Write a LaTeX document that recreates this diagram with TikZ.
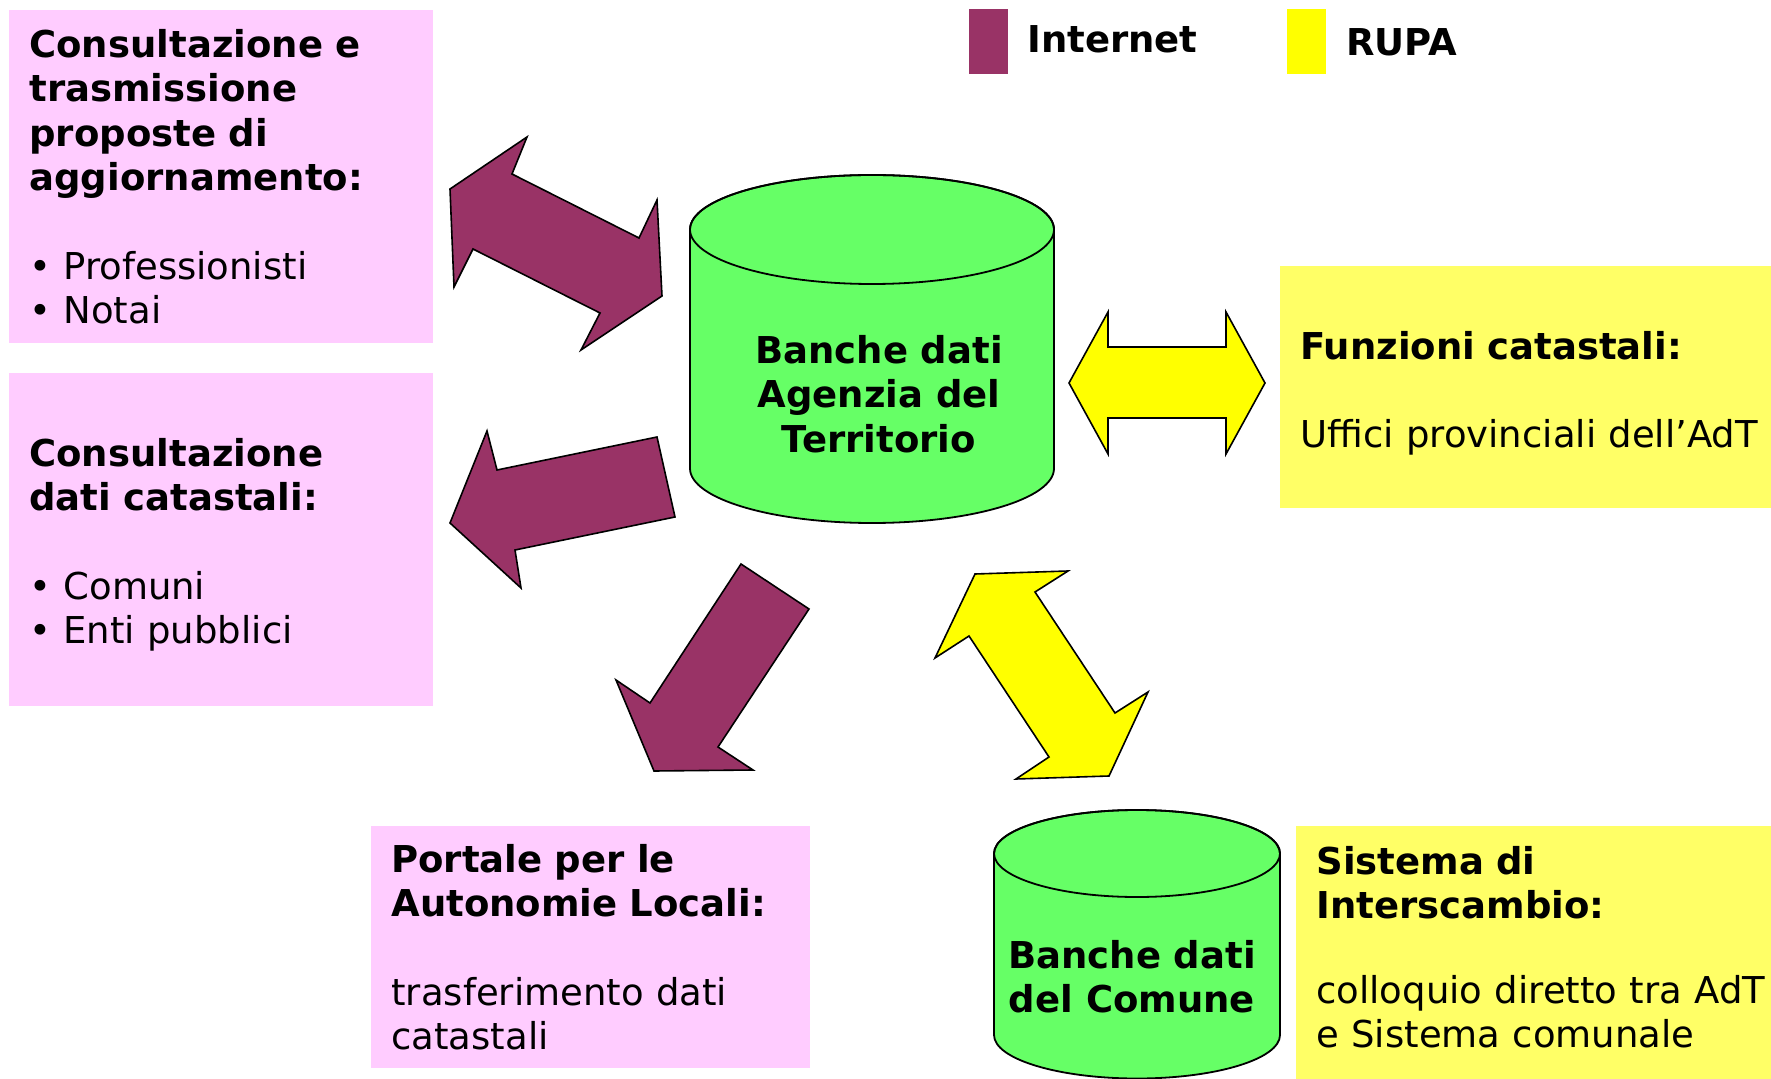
\documentclass[tikz,border=0pt]{standalone}
\usepackage{fontspec}
\setmainfont{DejaVu Sans}
\usepackage{xcolor}
\usetikzlibrary{positioning}

\definecolor{internet}{HTML}{993366}
\definecolor{rupa}{HTML}{FFFF00}
\definecolor{banca}{HTML}{66FF66}
\definecolor{rosa}{HTML}{FFCCFF}
\definecolor{giallo}{HTML}{FFFF66}

\tikzset{
  testo/.style={font=\fontsize{18.5}{22.2}\selectfont},
  grassetto/.style={font=\fontsize{18.5}{22.2}\selectfont\bfseries},
  riquadro/.style={testo, anchor=north west, inner xsep=10pt, inner ysep=0pt, align=left},
  freccia/.style={draw=black, line width=0.8pt, line join=miter},
  legenda/.style={anchor=north west, inner sep=0pt, minimum width=19.5pt, minimum height=32.5pt},
}

\begin{document}
\begin{tikzpicture}[x=0.5pt,y=-0.5pt]
\useasboundingbox (0,0) rectangle (1771,1079);

% riquadri
\node[riquadro, fill=rosa, text width=192pt, minimum height=166.5pt] (aggiornamento) at (9,10)
  {\bfseries Consultazione e\\ trasmissione\\ proposte di\\ aggiornamento:\\[22.2pt]
   \mdseries • Professionisti\\ • Notai};
\node[riquadro, fill=rosa, text width=192pt, minimum height=166.5pt] (consultazione) at (9,373)
  {\bfseries \rule{0pt}{19pt}Consultazione\\ dati catastali:\\[22.2pt]
   \mdseries • Comuni\\ • Enti pubblici};
\node[riquadro, fill=rosa, text width=199.5pt, minimum height=121pt] (portale) at (371,826)
  {\bfseries Portale per le\\ Autonomie Locali:\\[22.2pt]
   \mdseries trasferimento dati\\ catastali};
\node[riquadro, fill=giallo, text width=240pt, minimum height=121pt] (funzioni) at (1280,266)
  {\bfseries \rule{0pt}{20pt}Funzioni catastali:\\[22.2pt]
   \mdseries Uffici provinciali dell’AdT};
\node[riquadro, fill=giallo, text width=232pt, minimum height=126.5pt] (interscambio) at (1296,826)
  {\bfseries Sistema di\\ Interscambio:\\[20pt]
   \mdseries colloquio diretto tra AdT\\ e Sistema comunale\rule[-6pt]{0pt}{6pt}};

% legenda
\node[legenda, fill=internet] (leginternet) at (969,9) {};
\node[grassetto, anchor=base west, inner sep=0pt] (txtinternet) at (1027,53) {Internet};
\node[legenda, fill=rupa] (legrupa) at (1287,9) {};
\node[grassetto, anchor=base west, inner sep=0pt] (txtrupa) at (1346,56) {RUPA};

% banche dati
\foreach \cx/\rx/\ty/\by/\ry in {872/182/229.5/468.5/54.5, 1137/143/853.5/1035/43.5}{
  \filldraw[fill=banca, line width=0.9pt] (\cx-\rx,\ty) -- (\cx-\rx,\by)
    arc[start angle=180, end angle=0, x radius=\rx, y radius=\ry] -- (\cx+\rx,\ty)
    arc[start angle=0, end angle=-180, x radius=\rx, y radius=\ry] -- cycle;
  \draw[line width=0.9pt] (\cx,\ty) ellipse [x radius=\rx, y radius=\ry];
}
\node[grassetto, align=center, anchor=north, inner sep=0pt] (agenzia) at (879,335)
  {Banche dati\\ Agenzia del\\ Territorio};
\node[grassetto, align=center, anchor=north, inner sep=0pt] (comune) at (1132,940)
  {Banche dati\\ del Comune};

% frecce Internet
\draw[freccia, fill=internet] (527,137) -- (450,189) -- (454,287) -- (473,249) -- (600,313)
  -- (581,350) -- (662,296) -- (657,200) -- (639,238) -- (512,174) -- cycle;
\draw[freccia, fill=internet] (487,431) -- (450,523) -- (521,588) -- (515,550) -- (675,517)
  -- (657,437) -- (497,470) -- cycle;
\draw[freccia, fill=internet] (741,564) -- (809,609) -- (718,747) -- (753,770) -- (654,771)
  -- (616,680) -- (650,703) -- cycle;

% frecce RUPA
\draw[freccia, fill=rupa] (1069,383) -- (1108,312) -- (1108,347) -- (1226,347) -- (1226,312)
  -- (1265,383) -- (1226,454) -- (1226,418) -- (1108,418) -- (1108,454) -- cycle;
\draw[freccia, fill=rupa] (1068,571) -- (975,574) -- (935,658) -- (969,636) -- (1049,757)
  -- (1016,779) -- (1109,776) -- (1148,692) -- (1115,713) -- (1035,592) -- cycle;
\end{tikzpicture}
\end{document}
